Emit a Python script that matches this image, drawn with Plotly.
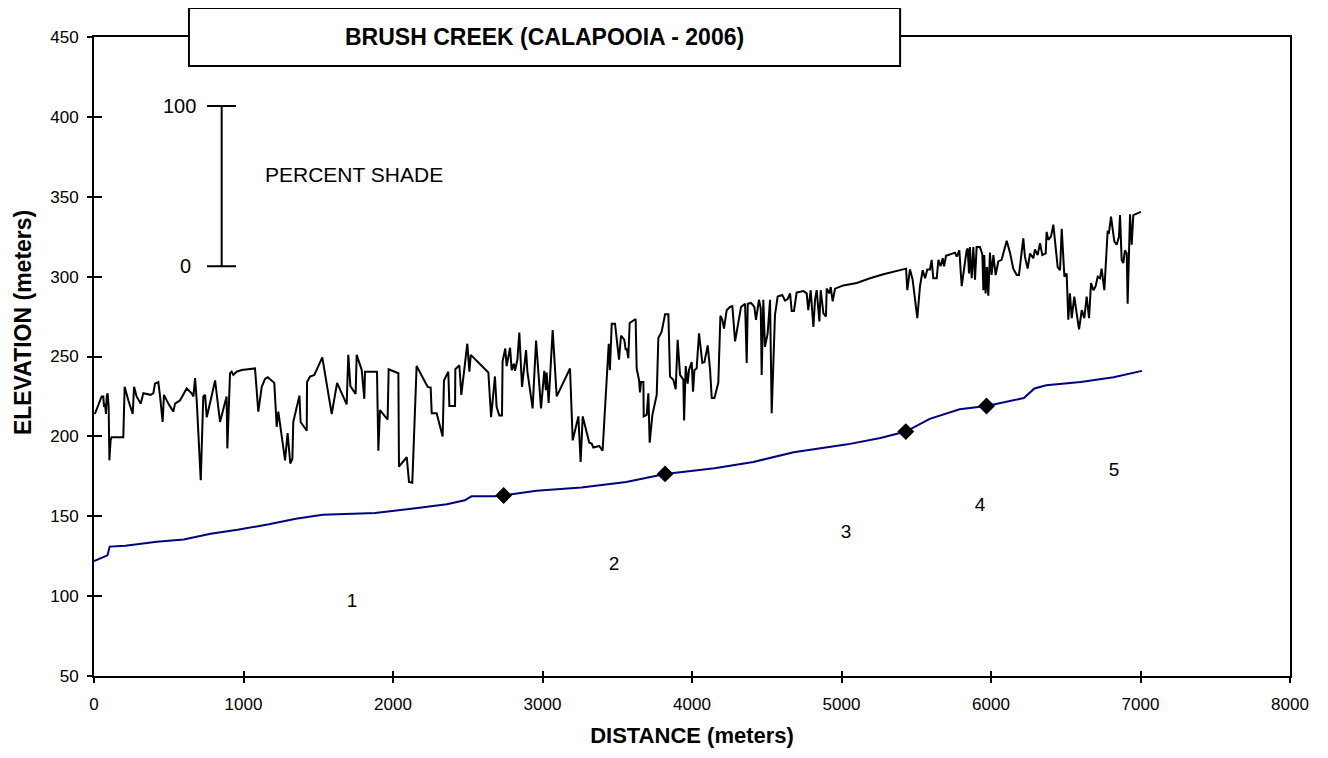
import plotly.graph_objects as go

# percent shade trace, drawn on the elevation scale (elevation + shade)
shade_x = [6, 40, 51, 62, 67, 74, 80, 85, 91, 98, 103, 111, 118, 196, 205, 230, 259, 268, 285, 312,
           330, 379, 397, 408, 430, 442, 459, 468, 497, 531, 542, 575, 620, 653, 665, 676, 687, 714, 731, 743,
           754, 780, 810, 843, 870, 887, 892, 910, 921, 932, 954, 988, 1077, 1099, 1122, 1144, 1162, 1206, 1222, 1233,
           1278, 1295, 1313, 1327, 1333, 1374, 1382, 1423, 1425, 1445, 1474, 1527, 1590, 1626, 1690, 1701, 1715, 1750, 1757, 1791,
           1808, 1813, 1893, 1902, 1913, 1964, 1971, 2036, 2040, 2092, 2107, 2129, 2158, 2232, 2252, 2259, 2292, 2332, 2341, 2370,
           2377, 2415, 2417, 2444, 2457, 2497, 2511, 2520, 2638, 2656, 2682, 2693, 2711, 2729, 2733, 2751, 2760, 2783, 2794, 2809,
           2816, 2832, 2845, 2863, 2890, 2899, 2934, 2957, 2990, 3012, 3023, 3028, 3041, 3068, 3095, 3184, 3202, 3240, 3255, 3269,
           3313, 3329, 3340, 3380, 3402, 3429, 3443, 3451, 3463, 3485, 3512, 3525, 3547, 3556, 3565, 3574, 3583, 3623, 3630, 3646,
           3652, 3659, 3675, 3677, 3697, 3708, 3717, 3735, 3764, 3775, 3797, 3820, 3842, 3853, 3875, 3891, 3904, 3920, 3942, 3947,
           3958, 3971, 3980, 3998, 4007, 4016, 4031, 4047, 4069, 4083, 4105, 4121, 4132, 4150, 4176, 4190, 4203, 4214, 4232, 4254,
           4270, 4288, 4328, 4355, 4366, 4373, 4395, 4417, 4428, 4448, 4460, 4466, 4477, 4488, 4506, 4522, 4533, 4555, 4573, 4604,
           4622, 4640, 4656, 4667, 4682, 4700, 4745, 4767, 4778, 4794, 4812, 4823, 4834, 4852, 4861, 4879, 4896, 4901, 4919, 4928,
           4941, 4957, 5012, 5102, 5191, 5280, 5369, 5432, 5440, 5458, 5476, 5492, 5507, 5525, 5543, 5559, 5574, 5592, 5603, 5614,
           5637, 5648, 5663, 5677, 5686, 5699, 5726, 5759, 5771, 5788, 5804, 5820, 5837, 5844, 5853, 5859, 5871, 5882, 5893, 5904,
           5926, 5942, 5949, 5955, 5964, 5973, 5982, 5993, 6004, 6016, 6031, 6049, 6071, 6105, 6127, 6149, 6172, 6187, 6205, 6216,
           6227, 6245, 6261, 6283, 6294, 6312, 6328, 6343, 6366, 6372, 6384, 6401, 6417, 6428, 6446, 6462, 6473, 6491, 6506, 6517,
           6528, 6540, 6557, 6573, 6589, 6607, 6624, 6640, 6656, 6669, 6685, 6700, 6714, 6729, 6740, 6758, 6780, 6789, 6803, 6812,
           6825, 6841, 6856, 6863, 6874, 6885, 6896, 6908, 6914, 6930, 6941, 6952, 6968, 6986, 7003]
shade_y = [214, 223, 225, 225, 218.5, 220.5, 214, 225, 227, 218.5, 185, 197.5, 199.5, 199.5, 231, 222.5, 214, 231, 225, 220.5,
           227, 226, 227, 233, 234, 225, 209, 226, 220.5, 215.5, 220.5, 222.5, 230, 227, 225, 236.5, 222.5, 172.5, 225, 226,
           212, 222.5, 235, 209, 218.5, 225, 192.5, 239.5, 240.5, 238.5, 240.5, 241.5, 242.5, 215.5, 231, 236, 237, 233.5, 206, 215.5,
           185, 202, 183, 186, 209, 225.5, 209, 203.5, 234, 237.5, 238.5, 249.5, 214, 233.5, 220, 251, 231.5, 226.5, 251, 241.5,
           223.5, 240.5, 240.5, 191, 216.5, 210.5, 242, 239.5, 181, 187, 171.5, 171, 244, 231, 230.5, 214.5, 214.5, 200, 235, 240.5,
           219, 219, 242, 244.5, 226, 258, 240.5, 251, 240, 212, 237.5, 218.5, 213, 213, 247, 255, 244, 255.5, 241.5, 245.5,
           241, 248, 265, 231, 254, 240.5, 217.5, 260, 217.5, 241, 229, 240, 221, 266.5, 225, 242.5, 197.5, 212.5, 184, 212.5,
           196, 195.5, 193, 194, 191, 233.5, 258, 241.5, 270.5, 270.5, 248, 263, 260.5, 254.5, 254.5, 249, 271, 273.5, 242.5, 235,
           227.5, 234, 234, 212.5, 213.5, 227, 196, 213.5, 226, 261.5, 265.5, 276.5, 276.5, 237.5, 235.5, 229.5, 260.5, 238.5, 235.5, 210,
           244, 233, 241.5, 246.5, 228, 241.5, 242.5, 264.5, 246, 246.5, 257, 241.5, 224, 224, 233.5, 275.5, 273, 267.5, 279, 281,
           281.5, 259.5, 281, 283, 246, 283, 283.5, 281, 273, 285.5, 280, 238.5, 285.5, 256, 264.5, 285.5, 214.5, 276, 287.5, 288.5,
           285, 286, 289.5, 278.5, 278.5, 290, 291, 289.5, 279, 291.5, 268.5, 285.5, 291.5, 272, 291.5, 277, 275, 292.5, 289.5, 293.5,
           284.5, 292.5, 294.5, 296, 299, 301.5, 303.5, 305, 291.5, 304.5, 298, 285.5, 274, 294, 304, 299, 304.5, 304.5, 310.5, 299,
           299, 310.5, 306.5, 311.5, 306.5, 313, 314, 315, 312.5, 316.5, 294, 306, 316.5, 317.5, 302, 318.5, 299, 318.5, 298, 318.5,
           318.5, 314, 291.5, 313.5, 289.5, 306, 288, 315, 301, 313.5, 301, 309.5, 310.5, 322.5, 315, 305, 301, 301, 315, 324,
           312.5, 305, 314.5, 311.5, 317, 313.5, 321, 313.5, 314.5, 328, 323, 325, 332.5, 322, 306, 304, 330, 300, 302, 273,
           289.5, 274, 287.5, 277, 267, 279, 274, 287.5, 274, 296, 291.5, 294, 300, 299, 305, 291.5, 328, 327.5, 337.5, 331,
           322, 320, 325, 338.5, 310.5, 308.5, 316.5, 314.5, 283, 339, 320, 338.5, 339, 340, 340.5]

# stream bed elevation profile
elev_x = [0, 90, 105, 210, 420, 600, 780, 960, 1170, 1350, 1530, 1880, 2150, 2360, 2480, 2525, 2680, 2740, 2960,
          3260, 3560, 3710, 3820, 4150, 4410, 4680, 5040, 5260, 5430, 5590, 5790, 5970, 6220, 6290, 6370, 6600, 6820, 7010]
elev_y = [122, 125.5, 131, 131.5, 134, 135.5, 139, 141.5, 145, 148.5, 151, 152, 155, 157.5, 160, 162.5, 162.5, 163, 166,
          168, 171.5, 174.5, 176.5, 180, 184, 190, 195, 199, 203, 211, 217, 219, 224, 230, 232, 234, 237, 241]

# reach break points and reach numbers
node_x = [2740, 3820, 5430, 5970]
node_y = [163, 176.5, 203, 219]
reach_text = ["1", "2", "3", "4", "5"]
reach_x = [1726, 3478, 5030, 5926, 6823]
reach_y = [96, 119.5, 139.5, 156, 178]

x_ticks = [0, 1000, 2000, 3000, 4000, 5000, 6000, 7000, 8000]
y_ticks = [50, 100, 150, 200, 250, 300, 350, 400, 450]

FONT = "Arial, 'Liberation Sans', sans-serif"

fig = go.Figure()
fig.add_trace(go.Scatter(x=shade_x, y=shade_y, mode="lines",
                         line=dict(color="black", width=2), hoverinfo="skip"))
fig.add_trace(go.Scatter(x=elev_x, y=elev_y, mode="lines",
                         line=dict(color="#000080", width=2), hoverinfo="skip"))
fig.add_trace(go.Scatter(x=node_x, y=node_y, mode="markers",
                         marker=dict(symbol="diamond", size=13, color="black")))
fig.add_trace(go.Scatter(x=reach_x, y=reach_y, mode="text", text=reach_text,
                         textfont=dict(size=19, color="black", family=FONT)))
# overlay axes give the tick marks that cross the axis line
fig.add_trace(go.Scatter(x=[], y=[], xaxis="x2", yaxis="y2"))

axis_common = dict(showgrid=False, zeroline=False, linecolor="black", linewidth=2,
                   ticks="outside", ticklen=5, tickwidth=2, tickcolor="black",
                   tickfont=dict(size=17, family=FONT, color="black"))

fig.update_layout(
    width=1320, height=750,
    plot_bgcolor="white", paper_bgcolor="white",
    margin=dict(l=86, r=38, t=29, b=82),
    showlegend=False,
    font=dict(family=FONT, color="black"),
    xaxis=dict(range=[0, 8000], tickvals=x_ticks, mirror=True, ticklabelstandoff=7,
               title=dict(text="<b>DISTANCE (meters)</b>", font=dict(size=22), standoff=14),
               **axis_common),
    yaxis=dict(range=[50, 450], tickvals=y_ticks, mirror=True, ticklabelstandoff=5,
               **axis_common),
    xaxis2=dict(range=[0, 8000], tickvals=x_ticks, overlaying="x", anchor="y2", side="bottom",
                showgrid=False, zeroline=False, showline=False, showticklabels=False,
                ticks="inside", ticklen=5, tickwidth=2, tickcolor="black"),
    yaxis2=dict(range=[50, 450], tickvals=y_ticks, overlaying="y", anchor="x2", side="left",
                showgrid=False, zeroline=False, showline=False, showticklabels=False,
                ticks="inside", ticklen=8, tickwidth=2, tickcolor="black"),
)

# y axis title, placed a little above the middle as in the source
fig.add_annotation(x=-0.0715, y=0.553, xref="paper", yref="paper", showarrow=False,
                   text="<b>ELEVATION (meters)</b>", textangle=-90, font=dict(size=23),
                   xanchor="left", yanchor="middle", borderpad=0)

# title box sitting across the top frame line
fig.add_shape(type="rect", xref="paper", yref="paper", x0=0.0794, x1=0.674, y0=0.9546, y1=1.0454,
              fillcolor="white", line=dict(color="black", width=2), layer="above")
fig.add_annotation(x=0.3767, y=1.0, xref="paper", yref="paper", showarrow=False,
                   text="<b>BRUSH CREEK (CALAPOOIA - 2006)</b>", font=dict(size=23, family=FONT),
                   xanchor="center", yanchor="middle")

# percent shade scale bar
bar_x, bar_lo, bar_hi = 854, 306.5, 406.8
fig.add_shape(type="line", x0=bar_x, x1=bar_x, y0=bar_lo, y1=bar_hi, line=dict(color="black", width=2))
fig.add_shape(type="line", x0=756, x1=950, y0=bar_lo, y1=bar_lo, line=dict(color="black", width=2))
fig.add_shape(type="line", x0=756, x1=950, y0=bar_hi, y1=bar_hi, line=dict(color="black", width=2))
fig.add_annotation(x=696, y=bar_hi, text="100", showarrow=False, xanchor="right", yanchor="middle",
                   font=dict(size=20))
fig.add_annotation(x=662, y=bar_lo, text="0", showarrow=False, xanchor="right", yanchor="middle",
                   font=dict(size=20))
fig.add_annotation(x=1131, y=364, text="PERCENT SHADE", showarrow=False, xanchor="left", yanchor="middle",
                   font=dict(size=21))

fig.write_html("out.html")
